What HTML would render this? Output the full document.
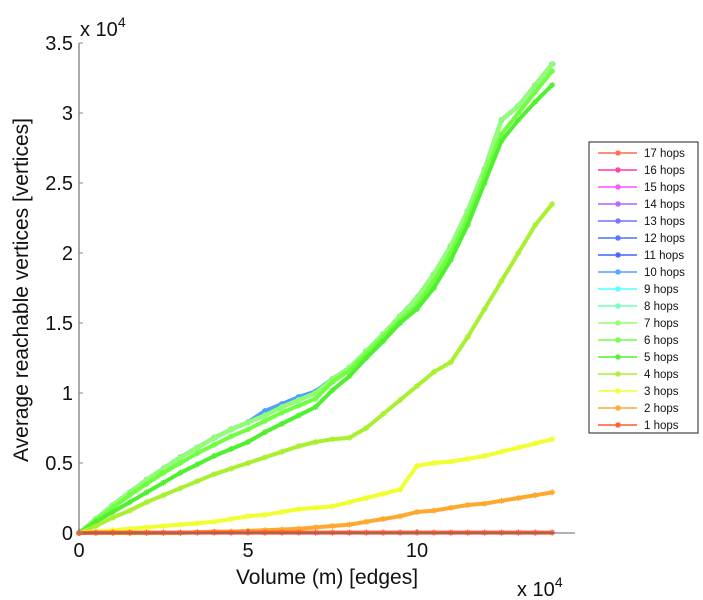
<!DOCTYPE html>
<html><head><meta charset="utf-8"><style>
body{margin:0;background:#fff;}
svg{display:block;font-family:"Liberation Sans",sans-serif;}
</style></head><body>
<svg id="chart" width="703" height="600" viewBox="0 0 703 600">
<g id="marks"></g>
<g id="axes"></g>
<g id="legend"></g>
</svg>
<script>
const xValues=[0,0.5,1,1.5,2,2.5,3,3.5,4,4.5,5,5.5,6,6.5,7,7.5,8,8.5,9,9.5,10,10.5,11,11.5,12,12.5,13,13.5,14];
const hopsTop=[0,0.1,0.2,0.29,0.38,0.46,0.54,0.61,0.68,0.74,0.79,0.84,0.9,0.95,1.0,1.1,1.18,1.3,1.42,1.55,1.68,1.85,2.05,2.3,2.6,2.95,3.05,3.2,3.35];
const hopsBlue=[0,0.1,0.2,0.29,0.38,0.46,0.54,0.61,0.68,0.74,0.79,0.87,0.92,0.97,1.01,1.1,1.18,1.3,1.42,1.55,1.68,1.85,2.05,2.3,2.6,2.95,3.05,3.2,3.35];
const hops6=[0,0.09,0.18,0.27,0.35,0.43,0.5,0.57,0.63,0.69,0.74,0.8,0.86,0.91,0.96,1.08,1.16,1.28,1.4,1.52,1.63,1.8,2.0,2.25,2.55,2.85,3.0,3.15,3.3];
const hops5=[0,0.08,0.15,0.22,0.29,0.36,0.43,0.49,0.55,0.6,0.65,0.72,0.78,0.84,0.9,1.02,1.12,1.25,1.37,1.5,1.6,1.75,1.95,2.2,2.5,2.8,2.95,3.08,3.2];
const hops4=[0,0.05,0.11,0.16,0.22,0.27,0.32,0.37,0.42,0.46,0.5,0.54,0.58,0.62,0.65,0.67,0.68,0.75,0.85,0.95,1.05,1.15,1.22,1.4,1.6,1.8,2.0,2.2,2.35];
const hops3=[0,0.01,0.02,0.03,0.04,0.05,0.06,0.07,0.08,0.1,0.12,0.13,0.15,0.17,0.18,0.19,0.22,0.25,0.28,0.31,0.48,0.5,0.51,0.53,0.55,0.58,0.61,0.64,0.67];
const hops2=[0,0,0,0,0,0,0,0.005,0.01,0.01,0.015,0.02,0.025,0.03,0.04,0.05,0.06,0.08,0.1,0.12,0.15,0.16,0.18,0.2,0.21,0.23,0.25,0.27,0.29];
const hops1=[0,0.003,0.003,0.003,0.003,0.003,0.003,0.003,0.003,0.003,0.003,0.003,0.003,0.003,0.003,0.003,0.003,0.003,0.003,0.003,0.003,0.003,0.003,0.003,0.003,0.003,0.003,0.003,0.003];
const seriesNames=["17 hops","16 hops","15 hops","14 hops","13 hops","12 hops","11 hops","10 hops","9 hops","8 hops","7 hops","6 hops","5 hops","4 hops","3 hops","2 hops","1 hops"];
const seriesData=[hopsTop,hopsTop,hopsTop,hopsTop,hopsBlue,hopsBlue,hopsBlue,hopsBlue,hopsTop,hopsTop,hopsTop,hops6,hops5,hops4,hops3,hops2,hops1];
const seriesColors=["#ff6a50","#ff3aa0","#ff50ff","#b060ff","#7070ff","#5070ff","#4060ff","#50a0ff","#50ffff","#70ffb8","#90ff70","#70ff40","#50f030","#a8f030","#f0ff30","#ffa830","#ff5a30"];
const xTicks=[0,5,10];
const yTicks=[0,0.5,1,1.5,2,2.5,3,3.5];
const yTickLabels=["0","0.5","1","1.5","2","2.5","3","3.5"];

const X0=79,Y0=533,PX=33.8,PY=140;
const sx=v=>X0+v*PX, sy=v=>Y0-v*PY;
const NS="http://www.w3.org/2000/svg";
function mk(t,a,p){const e=document.createElementNS(NS,t);for(const k in a)e.setAttribute(k,a[k]);p.appendChild(e);return e;}
const marks=document.getElementById('marks'),axes=document.getElementById('axes'),legend=document.getElementById('legend');
function star(g,x,y,c,r){
  const d=`M${x-r},${y}H${x+r}M${x},${y-r}V${y+r}M${x-r*0.7},${y-r*0.7}L${x+r*0.7},${y+r*0.7}M${x-r*0.7},${y+r*0.7}L${x+r*0.7},${y-r*0.7}`;
  const p=mk('path',{d:d,stroke:c,'stroke-width':1.2,fill:'none'},g);
  
  
}
// axes
const ya=mk('line',{x1:X0,y1:43,x2:X0,y2:Y0,stroke:'#aaa','stroke-width':2},axes);


const xa=mk('line',{x1:X0,y1:Y0,x2:575,y2:Y0,stroke:'#666','stroke-width':1},axes);


yTicks.forEach((v,i)=>{
  mk('line',{x1:X0,y1:sy(v),x2:X0+4,y2:sy(v),stroke:'#888'},axes);
  const t=mk('text',{x:X0-6,y:sy(v)+7,'text-anchor':'end','font-size':20,fill:'#111'},axes);
  t.textContent=yTickLabels[i];
  
  
});
xTicks.forEach(v=>{
  mk('line',{x1:sx(v),y1:Y0,x2:sx(v),y2:Y0-4,stroke:'#666'},axes);
  const t=mk('text',{x:sx(v),y:Y0+24,'text-anchor':'middle','font-size':20,fill:'#111'},axes);
  t.textContent=v;
  
  
});
// lines
for(let i=0;i<seriesData.length;i++){
  const g=mk('g',{},marks);
  
  
  const c=seriesColors[i];
  const pts=seriesData[i].map((v,j)=>sx(xValues[j])+','+sy(v)).join(' ');
  mk('polyline',{points:pts,fill:'none',stroke:c,'stroke-width':4,'stroke-linejoin':'round'},g);
  seriesData[i].forEach((v,j)=>star(g,sx(xValues[j]),sy(v),c,3));
}
// legend
const box=mk('rect',{x:589,y:142,width:109,height:291,fill:'#fff',stroke:'#222','stroke-width':1},legend);


seriesNames.forEach((n,i)=>{
  const y=153+i*17;
  const g=mk('g',{},legend);
  
  
  mk('line',{x1:598,y1:y,x2:637,y2:y,stroke:seriesColors[i],'stroke-width':1.5},g);
  star(g,618,y,seriesColors[i],3);
  const t=mk('text',{x:644,y:y+4,'font-size':11.5,fill:'#111'},g);
  t.textContent=n;
});
</script>
<svg style="position:absolute;left:0;top:0" width="703" height="600">
<text x="80" y="36" font-size="20" font-family="Liberation Sans,sans-serif" fill="#111">x 10<tspan dy="-9" font-size="14">4</tspan></text>
<text x="517" y="596" font-size="20" font-family="Liberation Sans,sans-serif" fill="#111">x 10<tspan dy="-9" font-size="14">4</tspan></text>
<text x="327" y="584" text-anchor="middle" font-size="21" font-family="Liberation Sans,sans-serif" fill="#111">Volume (m) [edges]</text>
<text transform="translate(28,290) rotate(-90)" text-anchor="middle" font-size="21" font-family="Liberation Sans,sans-serif" fill="#111">Average reachable vertices [vertices]</text>
</svg>
</body></html>
